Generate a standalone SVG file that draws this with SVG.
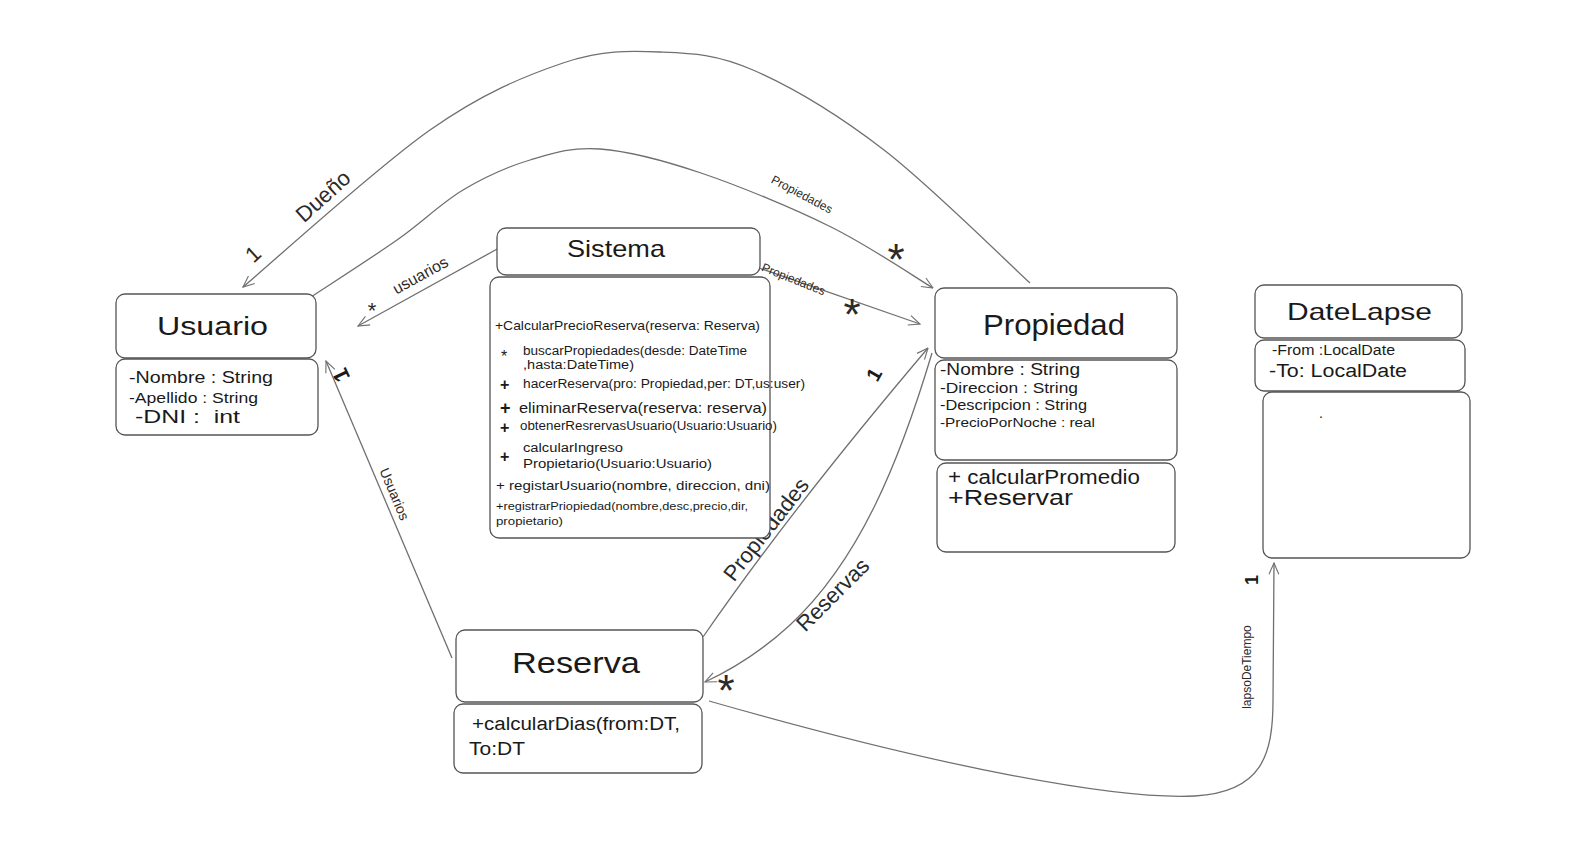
<svg xmlns="http://www.w3.org/2000/svg" width="1585" height="844" viewBox="0 0 1585 844">
<style>
.box{fill:#fff;stroke:#555;stroke-width:1.3}
.t{font-family:"Liberation Sans","DejaVu Sans",sans-serif;fill:#1a1a1a}
.c{fill:none;stroke:#707070;stroke-width:1.3}
.lbl{font-family:"Liberation Sans","DejaVu Sans",sans-serif;fill:#2a2a2a}
.m{font-family:"Liberation Sans","DejaVu Sans",sans-serif;fill:#1a1a1a;font-weight:bold}
</style>
<defs>
<marker id="arr" viewBox="0 0 20 20" refX="19" refY="10" markerWidth="14" markerHeight="14" orient="auto" markerUnits="userSpaceOnUse">
<path d="M3,3 L19,10 L3,17" fill="none" stroke="#707070" stroke-width="1.6"/>
</marker>
</defs>
<rect width="1585" height="844" fill="#fff"/>

<g id="connectors">
<!-- Dueño: Propiedad -> Usuario -->
<path class="c" d="M1030,283 C1005.7,260.8 930.2,185.5 884,150 C837.8,114.5 790.3,86.3 753,70 C715.7,53.7 691.7,53.2 660,52 C628.3,50.8 601.3,50 563,63 C524.7,76 483.3,92.7 430,130 C376.7,167.3 274.2,260.8 243,287" marker-end="url(#arr)"/>
<!-- Propiedades: Usuario -> Propiedad (inner arc) -->
<path class="c" d="M311,297 C325.3,287.5 371.7,257.8 397,240 C422.3,222.2 440.8,203.3 463,190 C485.2,176.7 507.2,166.8 530,160 C552.8,153.2 571.5,146.8 600,149 C628.5,151.2 662.5,160 701,173 C739.5,186 792.3,207.8 831,227 C869.7,246.2 916,277.8 933,288" marker-end="url(#arr)"/>
<!-- usuarios: Sistema -> Usuario -->
<path class="c" d="M499,248 L358,326" marker-end="url(#arr)"/>
<!-- Propiedades: Sistema -> Propiedad -->
<path class="c" d="M759,268 L920,324" marker-end="url(#arr)"/>
<!-- Propiedades: Reserva -> Propiedad -->
<path class="c" d="M703,637 C770,540 850,440 928,348" marker-end="url(#arr)"/>
<!-- Reservas: Propiedad -> Reserva -->
<path class="c" d="M932,353 C900,460 860,560 790,625 C765,648 735,668 705,682" marker-end="url(#arr)"/>
<!-- Usuarios: Reserva -> Usuario -->
<path class="c" d="M452,658 L326,361" marker-end="url(#arr)"/>
<!-- lapsoDeTiempo: Reserva -> DateLapse -->
<path class="c" d="M709,701 C950,770 1120,800 1195,796 C1262,792 1273,755 1273,700 L1274,563" marker-end="url(#arr)"/>

<text class="lbl" font-size="22" transform="translate(330,204) rotate(-42)" text-anchor="middle" y="-3">Dueño</text>
<text class="lbl" font-size="22" transform="translate(260,262) rotate(-42)" text-anchor="middle" y="-3">1</text>
<text class="lbl" font-size="12" transform="translate(800,198) rotate(28)" text-anchor="middle">Propiedades</text>
<text class="lbl" font-size="44" x="896" y="275" text-anchor="middle">*</text>
<text class="lbl" font-size="16" transform="translate(423,280) rotate(-29)" text-anchor="middle">usuarios</text>
<text class="lbl" font-size="22" x="372" y="318" text-anchor="middle">*</text>
<text class="lbl" font-size="12" transform="translate(792,283) rotate(22)" text-anchor="middle">Propiedades</text>
<text class="lbl" font-size="44" x="852" y="330" text-anchor="middle">*</text>
<text class="lbl" font-size="22" transform="translate(772,534) rotate(-52)" text-anchor="middle">Propiedades</text>
<text class="m" font-size="20" transform="translate(880,378) rotate(-60)" text-anchor="middle">1</text>
<text class="lbl" font-size="22" transform="translate(838,600) rotate(-45)" text-anchor="middle">Reservas</text>
<text class="lbl" font-size="44" x="726" y="706" text-anchor="middle">*</text>
<text class="lbl" font-size="14" transform="translate(390,496) rotate(67)" text-anchor="middle">Usuarios</text>
<text class="m" font-size="22" transform="translate(348,372) rotate(-115)" text-anchor="middle">1</text>
<text class="lbl" font-size="12" transform="translate(1251,667) rotate(-90)" text-anchor="middle">lapsoDeTiempo</text>
<text class="m" font-size="18" transform="translate(1258,580) rotate(-90)" text-anchor="middle">1</text>
</g>

<g id="usuario">
<rect class="box" x="116" y="294" width="200" height="64" rx="9"/>
<rect class="box" x="116" y="359" width="202" height="76" rx="9"/>
<text class="t" font-size="26" x="157" y="335" textLength="111" lengthAdjust="spacingAndGlyphs">Usuario</text>
<text class="t" font-size="17" x="129" y="383" textLength="144" lengthAdjust="spacingAndGlyphs">-Nombre : String</text>
<text class="t" font-size="15" x="129" y="403" textLength="129" lengthAdjust="spacingAndGlyphs">-Apellido : String</text>
<text class="t" font-size="18" x="135" y="423" textLength="105" lengthAdjust="spacingAndGlyphs" xml:space="preserve">-DNI :  int</text>
</g>

<g id="sistema">
<rect class="box" x="497" y="228" width="263" height="47" rx="9"/>
<rect class="box" x="490" y="277" width="280" height="261" rx="9"/>
<text class="t" font-size="24" x="567" y="257" textLength="98" lengthAdjust="spacingAndGlyphs">Sistema</text>
<text class="t" font-size="13" x="495" y="330" textLength="265" lengthAdjust="spacingAndGlyphs">+CalcularPrecioReserva(reserva: Reserva)</text>
<text class="t" font-size="16" x="501" y="362">*</text>
<text class="t" font-size="12" x="523" y="355" textLength="224" lengthAdjust="spacingAndGlyphs">buscarPropiedades(desde: DateTime</text>
<text class="t" font-size="12" x="523" y="369" textLength="111" lengthAdjust="spacingAndGlyphs">,hasta:DateTime)</text>
<text class="m" font-size="16" x="500" y="390">+</text>
<text class="t" font-size="12" x="523" y="388" textLength="282" lengthAdjust="spacingAndGlyphs">hacerReserva(pro: Propiedad,per: DT,us:user)</text>
<text class="m" font-size="18" x="500" y="414">+</text>
<text class="t" font-size="15" x="519" y="413" textLength="248" lengthAdjust="spacingAndGlyphs">eliminarReserva(reserva: reserva)</text>
<text class="m" font-size="16" x="500" y="433">+</text>
<text class="t" font-size="12" x="520" y="430" textLength="257" lengthAdjust="spacingAndGlyphs">obtenerResrervasUsuario(Usuario:Usuario)</text>
<text class="m" font-size="16" x="500" y="462">+</text>
<text class="t" font-size="12" x="523" y="452" textLength="100" lengthAdjust="spacingAndGlyphs">calcularIngreso</text>
<text class="t" font-size="12" x="523" y="468" textLength="189" lengthAdjust="spacingAndGlyphs">Propietario(Usuario:Usuario)</text>
<text class="t" font-size="13" x="496" y="490" textLength="274" lengthAdjust="spacingAndGlyphs">+ registarUsuario(nombre, direccion, dni)</text>
<text class="t" font-size="11" x="496" y="510" textLength="252" lengthAdjust="spacingAndGlyphs">+registrarPriopiedad(nombre,desc,precio,dir,</text>
<text class="t" font-size="11" x="496" y="525" textLength="67" lengthAdjust="spacingAndGlyphs">propietario)</text>
</g>

<g id="propiedad">
<rect class="box" x="935" y="288" width="242" height="70" rx="9"/>
<rect class="box" x="935" y="360" width="242" height="100" rx="9"/>
<rect class="box" x="937" y="463" width="238" height="89" rx="9"/>
<text class="t" font-size="30" x="983" y="335" textLength="142" lengthAdjust="spacingAndGlyphs">Propiedad</text>
<text class="t" font-size="17" x="940" y="375" textLength="140" lengthAdjust="spacingAndGlyphs">-Nombre : String</text>
<text class="t" font-size="15" x="940" y="393" textLength="138" lengthAdjust="spacingAndGlyphs">-Direccion : String</text>
<text class="t" font-size="15" x="940" y="410" textLength="147" lengthAdjust="spacingAndGlyphs">-Descripcion : String</text>
<text class="t" font-size="13" x="940" y="427" textLength="155" lengthAdjust="spacingAndGlyphs">-PrecioPorNoche : real</text>
<text class="t" font-size="20" x="948" y="484" textLength="192" lengthAdjust="spacingAndGlyphs">+ calcularPromedio</text>
<text class="t" font-size="22" x="948" y="505" textLength="125" lengthAdjust="spacingAndGlyphs">+Reservar</text>
</g>

<g id="datelapse">
<rect class="box" x="1255" y="285" width="207" height="53" rx="9"/>
<rect class="box" x="1255" y="340" width="210" height="51" rx="9"/>
<rect class="box" x="1263" y="392" width="207" height="166" rx="9"/>
<text class="t" font-size="24" x="1287" y="320" textLength="145" lengthAdjust="spacingAndGlyphs">DateLapse</text>
<text class="t" font-size="14" x="1272" y="355" textLength="123" lengthAdjust="spacingAndGlyphs">-From :LocalDate</text>
<text class="t" font-size="18" x="1269" y="377" textLength="138" lengthAdjust="spacingAndGlyphs">-To: LocalDate</text>
<text class="t" font-size="14" x="1319" y="418">.</text>
</g>

<g id="reserva">
<rect class="box" x="456" y="630" width="247" height="72" rx="9"/>
<rect class="box" x="454" y="704" width="248" height="69" rx="9"/>
<text class="t" font-size="30" x="512" y="673" textLength="128" lengthAdjust="spacingAndGlyphs">Reserva</text>
<text class="t" font-size="18" x="472" y="730" textLength="208" lengthAdjust="spacingAndGlyphs">+calcularDias(from:DT,</text>
<text class="t" font-size="18" x="469" y="755" textLength="56" lengthAdjust="spacingAndGlyphs">To:DT</text>
</g>
</svg>
